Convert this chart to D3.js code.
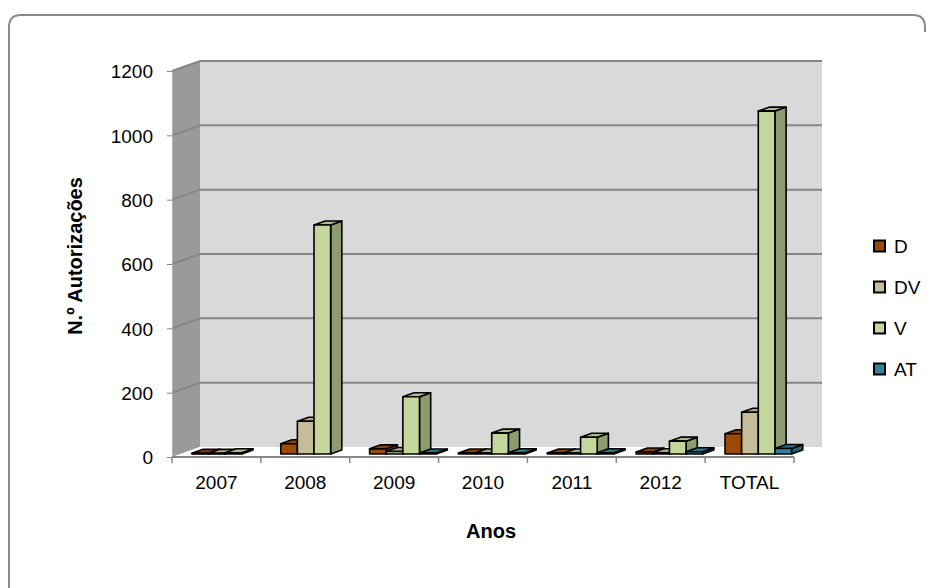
<!DOCTYPE html>
<html>
<head>
<meta charset="utf-8">
<script src="https://cdn.jsdelivr.net/npm/d3@7"></script>
<style>
  html, body { margin: 0; padding: 0; background: #fff; }
  svg { display: block; }
  text { font-family: "Liberation Sans", Arial, sans-serif; fill: #000; }
</style>
</head>
<body>
<svg id="chart" width="933" height="588"></svg>
<script>
// ---- data ----
const categories = ["2007", "2008", "2009", "2010", "2011", "2012", "TOTAL"];
const seriesNames = ["D", "DV", "V", "AT"];
const valuesD  = [2, 32, 16, 3, 3, 6, 63];
const valuesDV = [2, 102, 8, 3, 3, 4, 130];
const valuesV  = [4, 712, 178, 65, 52, 40, 1066];
const valuesAT = [0, 0, 3, 4, 4, 7, 17];
const yTicks = [0, 200, 400, 600, 800, 1000, 1200];
const seriesColors = ["#9C4A08", "#C4BD97", "#C3D69B", "#31849B"];
const yTitle = "N.º Autorizações";
const xTitle = "Anos";

const seriesValues = [valuesD, valuesDV, valuesV, valuesAT];

// ---- layout ----
const svg = d3.select("#chart");
const frontLeft = 172, frontRight = 794, frontBottom = 457, frontTop = 71;
const DX = 28, DY = -10; // depth offset for z = 1

const x0 = d3.scaleBand().domain(categories).range([frontLeft, frontRight]);
const x1 = d3.scaleBand().domain(seriesNames).range([11.5, 78]);
const y = d3.scaleLinear().domain([0, 1200]).range([frontBottom, frontTop]);

const P = (x, yy, z) => [x + DX * z, yy + DY * z];
const poly = pts => "M" + pts.map(p => p.join(",")).join("L") + "Z";

// outer border
svg.append("path")
  .attr("d", "M9,590 L9,27 Q9,15 21,15 L913,15 Q925,15 925,27 L925,32")
  .attr("fill", "none").attr("stroke", "#8a8a8a").attr("stroke-width", 2);

// walls
svg.append("path")
  .attr("d", poly([P(frontLeft, y(0), 1), P(frontRight, y(0), 1), P(frontRight, y(1200), 1), P(frontLeft, y(1200), 1)]))
  .attr("fill", "#D9D9D9");
svg.append("path")
  .attr("d", poly([P(frontLeft, y(0), 0), P(frontLeft, y(1200), 0), P(frontLeft, y(1200), 1), P(frontLeft, y(0), 1)]))
  .attr("fill", "#9A9A9A");
svg.append("path")
  .attr("d", poly([P(frontLeft, y(0), 0), P(frontRight, y(0), 0), P(frontRight, y(0), 1), P(frontLeft, y(0), 1)]))
  .attr("fill", "#FFFFFF");

// gridlines
const grid = svg.append("g");
yTicks.filter(t => t > 0).forEach(t => {
  const a = P(frontLeft, y(t), 0), b = P(frontLeft, y(t), 1), c = P(frontRight, y(t), 1);
  grid.append("path")
    .attr("d", `M${a[0]},${a[1]}L${b[0]},${b[1]}L${c[0]},${c[1]}`)
    .attr("fill", "none").attr("stroke", "#868686").attr("stroke-width", 2);
});

// y axis
const yAxis = d3.axisLeft(y).tickValues(yTicks).tickFormat(d3.format("d")).tickSize(5).tickPadding(14);
const gy = svg.append("g").attr("transform", `translate(${frontLeft},0)`).call(yAxis);
gy.select(".domain").attr("stroke", "#b0b0b0").attr("stroke-width", 1);
gy.selectAll(".tick line").attr("stroke", "#868686");
gy.selectAll(".tick text").attr("font-size", 19).attr("font-family", "Liberation Sans, Arial, sans-serif")
  .attr("fill", "#000").attr("dy", "0.36em");

// x axis
const xAxis = d3.axisBottom(x0).tickSize(0).tickPadding(19);
const gx = svg.append("g").attr("transform", `translate(0,${frontBottom})`).call(xAxis);
gx.select(".domain").attr("stroke", "#868686").attr("stroke-width", 2).attr("d", `M${frontLeft},0H${frontRight}`);
gx.selectAll(".tick text").attr("font-size", 19).attr("font-family", "Liberation Sans, Arial, sans-serif").attr("fill", "#000");
const bounds = categories.map(c => x0(c)).concat([frontRight]);
gx.selectAll(".sep").data(bounds).enter().append("line")
  .attr("x1", d => d).attr("x2", d => d).attr("y1", 0).attr("y2", 6)
  .attr("stroke", "#868686").attr("stroke-width", 1.5);

// bars
const z0 = 0.3, z1 = 0.7;
const barsG = svg.append("g");
categories.forEach((cat, ci) => {
  seriesNames.forEach((s, si) => {
    const v = seriesValues[si][ci];
    if (!v) return;
    const xl = x0(cat) + x1(s), xr = xl + x1.bandwidth();
    const yt = y(v), yb = y(0);
    const col = d3.color(seriesColors[si]);
    const g = barsG.append("g").attr("stroke", "#000").attr("stroke-width", 1.6).attr("stroke-linejoin", "round");
    g.append("path").attr("d", poly([P(xr, yt, z0), P(xr, yb, z0), P(xr, yb, z1), P(xr, yt, z1)]))
      .attr("fill", col.darker(0.9));
    g.append("path").attr("d", poly([P(xl, yt, z0), P(xr, yt, z0), P(xr, yt, z1), P(xl, yt, z1)]))
      .attr("fill", col.darker(0.35));
    g.append("path").attr("d", poly([P(xl, yt, z0), P(xr, yt, z0), P(xr, yb, z0), P(xl, yb, z0)]))
      .attr("fill", col);
  });
});

// axis titles
svg.append("text").attr("x", 491).attr("y", 538).attr("text-anchor", "middle")
  .attr("font-size", 20).attr("font-weight", "bold").text(xTitle);
svg.append("text").attr("transform", "translate(82,256) rotate(-90)").attr("text-anchor", "middle")
  .attr("font-size", 20).attr("font-weight", "bold").text(yTitle);

// legend
const lg = svg.append("g");
seriesNames.forEach((s, i) => {
  const cy = 246 + i * 41;
  lg.append("rect").attr("x", 874).attr("y", cy - 5.5).attr("width", 11).attr("height", 11)
    .attr("fill", seriesColors[i]).attr("stroke", "#000").attr("stroke-width", 2);
  lg.append("text").attr("x", 894).attr("y", cy).attr("dy", "0.36em").attr("font-size", 19).text(s);
});
</script>
</body>
</html>
